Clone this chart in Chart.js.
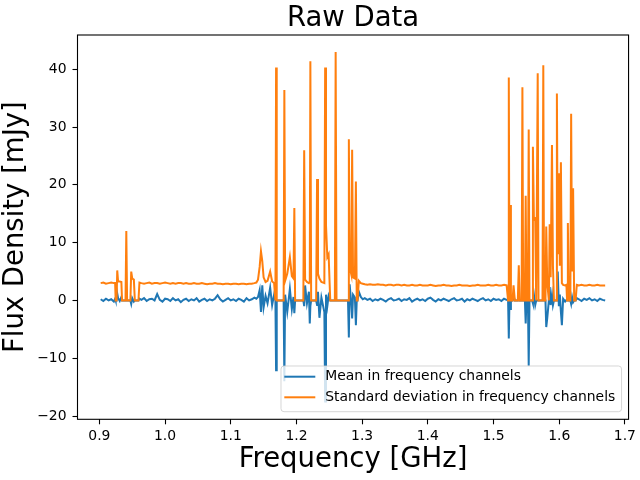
<!DOCTYPE html>
<html>
<head>
<meta charset="utf-8">
<title>Raw Data</title>
<script src="https://cdn.jsdelivr.net/npm/chart.js@4/dist/chart.umd.min.js"></script>
<style>
  html, body { margin: 0; padding: 0; background: #fff; }
  canvas { display: block; }
</style>
</head>
<body>
<canvas id="rawChart" width="640" height="480"></canvas>
<script>
// channel frequencies [GHz]
const freqGHz = [
  // clean start
  0.902, 0.906, 0.910, 0.914, 0.918, 0.922,
  // rfi near 0.93-0.96
  0.9240, 0.9248, 0.9262, 0.9272, 0.9285, 0.9310, 0.9335, 0.9345, 0.9398,
  0.9410, 0.9422, 0.9472, 0.9485, 0.9500, 0.9525, 0.9540, 0.9595, 0.9610,
  // clean 0.96-1.14
  0.964, 0.968, 0.972, 0.976, 0.980, 0.984, 0.988, 0.992, 0.996, 1.000,
  1.004, 1.008, 1.012, 1.016, 1.020, 1.024, 1.028, 1.032, 1.036, 1.040,
  1.044, 1.048, 1.052, 1.056, 1.060, 1.064, 1.068, 1.072, 1.076, 1.080,
  1.084, 1.088, 1.092, 1.096, 1.100, 1.104, 1.108, 1.112, 1.116, 1.120,
  1.124, 1.128, 1.132, 1.136,
  // rfi 1.14-1.30
  1.1390, 1.1415, 1.1440, 1.1460, 1.1480, 1.1500, 1.1530, 1.1560, 1.1600, 1.1630,
  1.1660, 1.1680, 1.1690, 1.1700, 1.1805, 1.1816, 1.1828, 1.1860, 1.1900, 1.1930,
  1.1955, 1.1968, 1.1980, 1.2105, 1.2118, 1.2132, 1.2160, 1.2190, 1.2203, 1.2212,
  1.2224, 1.2300, 1.2314, 1.2328, 1.2350, 1.2380, 1.2425, 1.2437, 1.2450, 1.2470,
  1.2490, 1.2505, 1.2515, 1.2585, 1.2597, 1.2610, 1.2785, 1.2798, 1.2810, 1.2835,
  1.2848, 1.2862, 1.2890, 1.2905, 1.2918, 1.2930, 1.2950, 1.2980, 1.3010,
  // clean 1.30-1.52
  1.304, 1.308, 1.312, 1.316, 1.320, 1.324, 1.328, 1.332, 1.336, 1.340,
  1.344, 1.348, 1.352, 1.356, 1.360, 1.364, 1.368, 1.372, 1.376, 1.380,
  1.384, 1.388, 1.392, 1.396, 1.400, 1.404, 1.408, 1.412, 1.416, 1.420,
  1.424, 1.428, 1.432, 1.436, 1.440, 1.444, 1.448, 1.452, 1.456, 1.460,
  1.464, 1.468, 1.472, 1.476, 1.480, 1.484, 1.488, 1.492, 1.496, 1.500,
  1.504, 1.508, 1.512, 1.516, 1.520,
  // rfi 1.52-1.63
  1.5222, 1.5233, 1.5243, 1.5253, 1.5265, 1.5290, 1.5305, 1.5325, 1.5370, 1.5385,
  1.5398, 1.5428, 1.5440, 1.5452, 1.5478, 1.5490, 1.5502, 1.5524, 1.5536, 1.5548,
  1.5588, 1.5600, 1.5615, 1.5635, 1.5650, 1.5661, 1.5673, 1.5685, 1.5746, 1.5758,
  1.5770, 1.5791, 1.5803, 1.5818, 1.5843, 1.5855, 1.5870, 1.5890, 1.5905, 1.5920,
  1.5953, 1.5965, 1.5978, 1.5995, 1.6010, 1.6026, 1.6041, 1.6060, 1.6090, 1.6110,
  1.6120, 1.6132, 1.6145, 1.6170, 1.6182, 1.6196, 1.6212, 1.6228, 1.6250, 1.6268,
  // clean end
  1.630, 1.634, 1.638, 1.642, 1.646, 1.650, 1.654, 1.658, 1.662, 1.666, 1.670
];

// mean flux per channel [mJy]
const meanFlux = [
  0.2, -0.1, 0.3, 0.0, 0.2, -0.2,
  0.3, 0, 0, 1.2, 0.4, -0.1, 0.6, 0, 0,
  0, 0, 0, -0.6, 0.4, -0.2, 0, 0, 0.3,
  0.1, 0.4, -0.1, 0.2, 0.3, 0.0, 1.1, 0.1, -0.2, 0.3,
  0.2, -0.1, 0.4, 0.0, 0.2, -0.3, 0.1, 0.3, -0.1, 0.2,
  0.0, 0.4, -0.2, 0.1, 0.3, -0.1, 0.2, 0.0, 0.3, 0.9,
  0.2, -0.2, 0.1, 0.4, 0.0, 0.2, -0.1, 0.3, 0.1, -0.2,
  0.4, 0.0, 0.2, 0.5,
  0.3, 0.6, 1.8, -2.0, 2.6, -1.2, 0.8, -0.5, 2.2, -0.8,
  1.0, 0, -12.1, 0, 0, -14.0, 1.0, -2.0, 2.0, -1.5,
  0.6, -2.2, 0, 0, -1.0, 2.6, -0.5, 1.5, -4.0, -1.0,
  0, 0, -0.8, 1.5, -3.0, 0.5, -2.0, -17.5, 1.0, -1.0,
  0.8, 0.3, 0, 0, 0, 0, 0, -6.4, 2.8, -0.5,
  -3.1, 1.0, 0.5, -4.3, 0, 0, 1.5, 0.6, 0.2,
  0.4, 0.1, 0.3, -0.1, 0.2, 0.0, 0.3, 0.1, -0.2, 0.2,
  0.4, 0.0, 0.1, 0.3, -0.1, 0.2, 0.1, 0.4, -0.2, 0.1,
  0.3, 0.0, 0.2, -0.1, 0.3, 0.5, 0.1, -0.2, 0.2, 0.0,
  0.3, 0.1, -0.1, 0.2, 0.4, 0.0, 0.1, 0.3, -0.2, 0.2,
  0.0, 0.3, 0.1, -0.1, 0.2, 0.4, 0.0, 0.2, -0.1, 0.3,
  0.1, 0.2, -0.1, 0.3, 0.1,
  0, -6.6, 0, -1.5, 0, 0, 0.8, 0, 0, 0.5,
  0, 0, 0, 0, 0, -4.0, 0, 0, -11.3, 0,
  0, -0.5, 1.0, -0.8, 0, 0, 0, 0, 0, 0,
  0, 0, -4.6, -3.1, 0, 2.3, -0.8, 1.0, -0.8, 0,
  0, 0.5, 5.0, -1.0, 1.0, -2.0, -4.3, 0.3, -0.2, 0.1,
  0, 0.5, 0, 0, -0.6, 0.6, -0.3, 0, 0, 0.4,
  0.2, -0.1, 0.3, 0.1, 0.4, 0.0, 0.2, -0.1, 0.3, 0.1, 0.0
];

// standard deviation per channel [mJy]
const stdFlux = [
  3.0, 3.1, 2.9, 3.0, 3.1, 3.0,
  3.0, 0, 0, 5.2, 3.3, 3.3, 3.2, 0, 0,
  12.0, 0, 0, 5.0, 3.8, 3.6, 0, 0, 3.1,
  3.0, 2.9, 3.0, 3.1, 2.9, 3.0, 3.0, 2.9, 3.0, 3.1,
  3.0, 2.9, 3.0, 2.9, 3.0, 3.0, 2.9, 3.0, 2.9, 2.9,
  3.0, 2.9, 2.9, 3.0, 2.9, 2.8, 2.9, 2.9, 3.0, 2.9,
  2.9, 2.8, 2.9, 2.9, 2.8, 2.9, 2.9, 2.8, 2.9, 2.9,
  2.8, 2.9, 2.9, 3.0,
  3.1, 3.6, 5.8, 8.5, 6.8, 4.0, 3.2, 3.4, 5.0, 3.3,
  3.0, 0, 40.3, 0, 0, 36.4, 3.4, 4.6, 7.5, 4.2,
  3.8, 16.0, 0, 0, 26.0, 3.6, 3.2, 3.0, 3.2, 41.4,
  0, 0, 21.0, 4.6, 3.8, 3.2, 3.0, 40.3, 13.0, 7.5,
  8.0, 3.0, 0, 0, 43.0, 0, 0, 27.9, 5.8, 4.5,
  26.1, 4.0, 3.8, 20.6, 0, 0, 3.4, 3.0, 2.9,
  2.8, 2.7, 2.8, 2.7, 2.7, 2.8, 2.7, 2.7, 2.6, 2.7,
  2.7, 2.6, 2.7, 2.7, 2.6, 2.7, 2.6, 2.6, 2.7, 2.6,
  2.6, 2.7, 2.6, 2.6, 2.6, 2.7, 2.6, 2.5, 2.6, 2.6,
  2.7, 2.6, 2.6, 2.5, 2.6, 2.6, 2.7, 2.6, 2.6, 2.6,
  2.5, 2.6, 2.6, 2.7, 2.6, 2.6, 2.6, 2.7, 2.6, 2.6,
  2.7, 2.6, 2.6, 2.7, 2.6,
  0, 38.6, 0, 16.5, 0, 0, 2.6, 0, 0, 6.1,
  0, 0, 36.9, 0, 0, 18.1, 0, 0, 29.6, 0,
  0, 26.6, 14.0, 14.2, 0, 0, 39.3, 0, 0, 40.7,
  0, 0, 12.8, 3.0, 0, 13.2, 4.0, 26.9, 6.0, 0,
  0, 35.8, 8.0, 22.0, 6.0, 23.9, 3.0, 2.7, 2.6, 2.7,
  0, 13.4, 0, 0, 32.3, 5.0, 19.4, 0, 0, 2.7,
  2.6, 2.7, 2.6, 2.6, 2.7, 2.6, 2.6, 2.7, 2.6, 2.6, 2.6
];

const seriesLabels = ['Mean in frequency channels', 'Standard deviation in frequency channels'];
const xTicks = [0.9, 1.0, 1.1, 1.2, 1.3, 1.4, 1.5, 1.6, 1.7];
const yTicks = [-20, -10, 0, 10, 20, 30, 40];

if (meanFlux.length !== freqGHz.length || stdFlux.length !== freqGHz.length) {
  throw new Error('length mismatch ' + freqGHz.length + ' ' + meanFlux.length + ' ' + stdFlux.length);
}

Chart.defaults.font.family = "'DejaVu Sans', sans-serif";
Chart.defaults.color = '#000';

// axes box drawn all round, like matplotlib
const framePlugin = {
  id: 'frame',
  afterDatasetsDraw(chart) {
    const {ctx, chartArea: a} = chart;
    ctx.save();
    ctx.strokeStyle = '#000';
    ctx.lineWidth = 1.1;
    ctx.strokeRect(a.left, a.top, a.right - a.left, a.bottom - a.top);
    ctx.restore();
  }
};

// legend box inside the plot, lower right
const legendPlugin = {
  id: 'insideLegend',
  afterDraw(chart) {
    const {ctx, chartArea: a} = chart;
    const sets = chart.data.datasets;
    ctx.save();
    ctx.font = "13.9px 'DejaVu Sans'";
    const textW = Math.max(...sets.map(d => ctx.measureText(d.label).width));
    const w = textW + 50.6, h = 45.7;
    const x = a.right - 7 - w, y = a.bottom - 7.6 - h;
    ctx.beginPath();
    ctx.roundRect(x, y, w, h, 3);
    ctx.fillStyle = 'rgba(255,255,255,0.8)';
    ctx.fill();
    ctx.strokeStyle = 'rgba(204,204,204,0.8)';
    ctx.lineWidth = 1;
    ctx.stroke();
    sets.forEach((d, i) => {
      const ly = y + 10.7 + i * 20.6;
      ctx.strokeStyle = d.borderColor;
      ctx.lineWidth = 2;
      ctx.beginPath();
      ctx.moveTo(x + 3.3, ly);
      ctx.lineTo(x + 34.3, ly);
      ctx.stroke();
      ctx.fillStyle = '#000';
      ctx.textBaseline = 'middle';
      ctx.fillText(d.label, x + 44.3, ly);
    });
    ctx.restore();
  }
};

const ctx = document.getElementById('rawChart').getContext('2d');

const rawChart = new Chart(ctx, {
  type: 'line',
  data: {
    datasets: [{
      label: seriesLabels[0],
      data: freqGHz.map((f, i) => ({x: f, y: meanFlux[i]})),
      borderColor: '#1f77b4',
      borderWidth: 2,
      pointRadius: 0,
      tension: 0,
      order: 1
    }, {
      label: seriesLabels[1],
      data: freqGHz.map((f, i) => ({x: f, y: stdFlux[i]})),
      borderColor: '#ff7f0e',
      borderWidth: 2,
      pointRadius: 0,
      tension: 0,
      order: 0
    }]
  },
  options: {
    responsive: false,
    animation: false,
    devicePixelRatio: 1,
    layout: {padding: {left: 0, right: 9, top: 0, bottom: 0}},
    plugins: {
      legend: {display: false},
      tooltip: {enabled: false},
      title: {
        display: true,
        fullSize: false,
        text: 'Raw Data',
        color: '#000',
        font: {size: 27.5, weight: 'normal', lineHeight: 1},
        padding: {top: 5, bottom: 2.5}
      }
    },
    scales: {
      x: {
        type: 'linear',
        min: 0.8667,
        max: 1.7056,
        afterBuildTicks: s => { s.ticks = xTicks.map(v => ({value: v})); },
        afterFit: s => { s.height = 60.7; },
        ticks: {
          callback: v => v.toFixed(1),
          padding: 4,
          maxRotation: 0,
          autoSkip: false,
          color: '#000',
          font: {size: 13.9}
        },
        grid: {drawOnChartArea: false, drawTicks: true, tickLength: 5, tickColor: '#000', tickWidth: 1.1},
        border: {display: false},
        title: {
          display: true,
          text: 'Frequency [GHz]',
          color: '#000',
          font: {size: 27.5, lineHeight: 1},
          padding: {top: 0, bottom: 6.5}
        }
      },
      y: {
        type: 'linear',
        min: -20.57,
        max: 45.94,
        afterBuildTicks: s => { s.ticks = yTicks.map(v => ({value: v})); },
        afterFit: s => { s.width = 77.5; },
        ticks: {
          callback: v => (v < 0 ? '\u2212' + Math.abs(v) : String(v)),
          padding: 6,
          color: '#000',
          font: {size: 13.9}
        },
        grid: {drawOnChartArea: false, drawTicks: true, tickLength: 5, tickColor: '#000', tickWidth: 1.1},
        border: {display: false},
        title: {
          display: true,
          text: 'Flux Density [mJy]',
          color: '#000',
          font: {size: 27.5, lineHeight: 1},
          padding: {top: 2.5, bottom: 0}
        }
      }
    }
  },
  plugins: [framePlugin, legendPlugin]
});
</script>
</body>
</html>
